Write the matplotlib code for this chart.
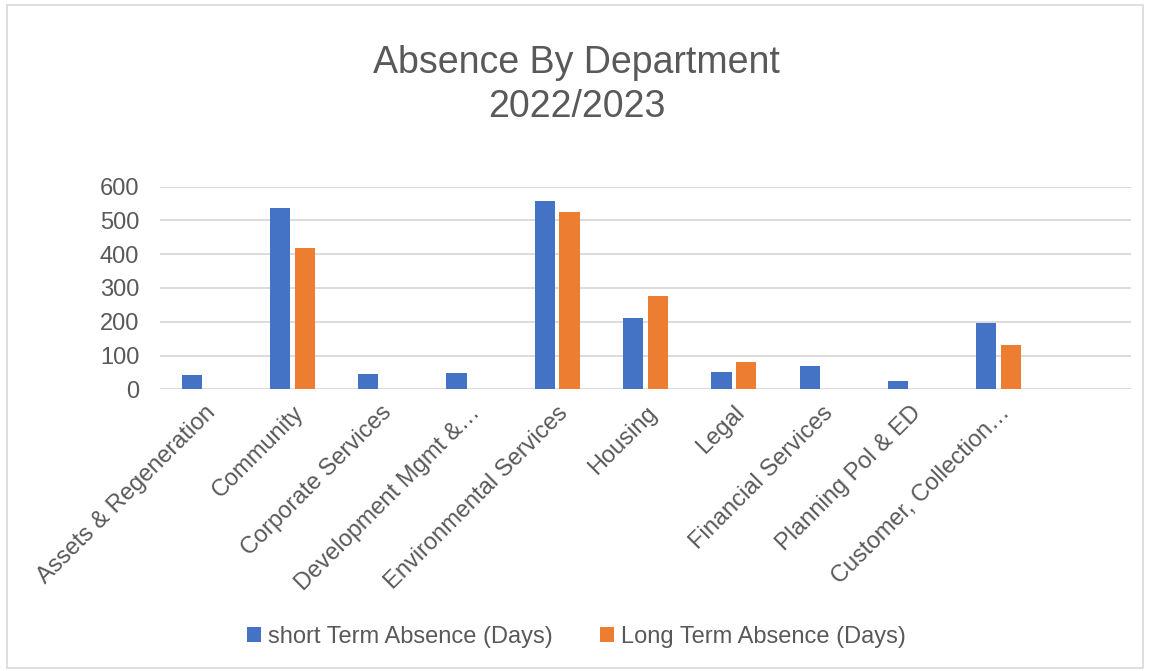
import numpy as np
import matplotlib
matplotlib.use("Agg")
import matplotlib.pyplot as plt
from matplotlib.patches import Rectangle

plt.rcParams['font.family'] = ['Liberation Sans', 'DejaVu Sans']

departments = ["Assets & Regeneration", "Community", "Corporate Services",
               "Development Mgmt &\u2026", "Environmental Services", "Housing",
               "Legal", "Financial Services", "Planning Pol & ED",
               "Customer, Collection\u2026", ""]
short_term = [42, 536, 46, 49, 558, 211, 51, 69, 25, 196, 0]
long_term = [0, 418, 0, 0, 524, 277, 80, 0, 0, 131, 0]

blue = "#4472C4"
orange = "#ED7D31"
text_col = "#595959"

fig = plt.figure(figsize=(11.53, 6.71), dpi=100)
ax = fig.add_axes([160 / 1153, 1 - 389.3 / 671, (1131 - 160) / 1153, (389.3 - 186.7) / 671])

x = np.arange(len(departments))
w = 0.23
ax.bar(x - 0.14, short_term, w, color=blue, label="short Term Absence (Days)")
ax.bar(x + 0.14, long_term, w, color=orange, label="Long Term Absence (Days)")

ax.set_xlim(-0.5, len(departments) - 0.5)
ax.set_ylim(0, 600)
ax.set_yticks(range(0, 601, 100))
ax.yaxis.grid(True, color="#D9D9D9", linewidth=1.3)
ax.set_axisbelow(True)
for s in ax.spines.values():
    s.set_visible(False)
ax.tick_params(length=0, labelsize=17, colors=text_col)
ax.tick_params(axis="y", pad=15)
ax.tick_params(axis="x", pad=9)
ax.set_xticks(x)
ax.set_xticklabels(departments, rotation=45, ha="right", rotation_mode="anchor")

fig.text(0.5, 1 - 85 / 671, "Absence By Department\n2022/2023", ha="center", va="center",
         fontsize=27, color=text_col, linespacing=1.28)

fig.legend(loc="center", bbox_to_anchor=(0.5, 1 - 637 / 671), ncol=2, frameon=False,
           fontsize=17, labelcolor=text_col, handlelength=0.6, handleheight=0.6,
           handletextpad=0.3, columnspacing=2.0)

fig.patches.append(Rectangle((7 / 1153, 3 / 671), 1136 / 1153, 663 / 671, transform=fig.transFigure,
                             fill=False, edgecolor="#D9D9D9", linewidth=1.2))

fig.savefig("out.png", dpi=100)
